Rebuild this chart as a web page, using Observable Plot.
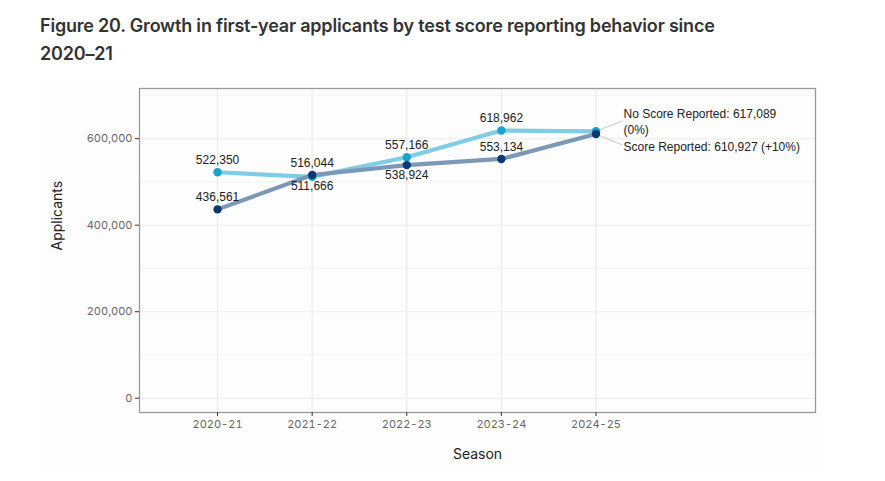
<!DOCTYPE html>
<html>
<head>
<meta charset="utf-8">
<script src="https://cdn.jsdelivr.net/npm/d3@7"></script>
<script src="https://cdn.jsdelivr.net/npm/@observablehq/plot@0.6"></script>
<style>
  html, body { margin: 0; padding: 0; background: #ffffff; }
  body { width: 885px; height: 481px; position: relative; overflow: hidden; }
  #panel { position: absolute; left: 42px; top: 80px; width: 780px; height: 390px; background: #fdfdfd; }
  #title { position: absolute; left: 40px; top: 12px; width: 705px; font-family: Inter, "Noto Sans", sans-serif; font-weight: 600; font-size: 18px; line-height: 28px; color: #333; letter-spacing: -0.2px; }
  #chart { position: absolute; left: 0; top: 80px; }
  #chart svg { overflow: visible; }
</style>
</head>
<body>
<div id="panel"></div>
<div id="title">Figure 20. Growth in first-year applicants by test score reporting behavior since 2020–21</div>
<div id="chart"></div>
<script>
// ---- data ----
const seasons = ["2020-21", "2021-22", "2022-23", "2023-24", "2024-25"];
const seriesNames = ["No Score Reported", "Score Reported"];
const noScore = [522350, 511666, 557166, 618962, 617089];
const score = [436561, 516044, 538924, 553134, 610927];
const growth = ["0%", "+10%"];
// label placement: -1 above point, +1 below point (first four seasons)
const noScorePlace = [-1, 1, -1, -1];
const scorePlace = [-1, -1, 1, -1];
const yTicks = [0, 200000, 400000, 600000];
const yMinor = [100000, 300000, 500000, 700000];
const xLabel = "Season";
const yLabel = "Applicants";

const lineColors = ["#80cbe5", "#7b98b7"];
const pointColors = ["#1aa3cf", "#0b3a72"];

const rows = [];
[noScore, score].forEach((vals, s) => {
  vals.forEach((v, i) => rows.push({series: seriesNames[s], s, i: i + 1, season: seasons[i], value: v,
    place: i < 4 ? (s === 0 ? noScorePlace[i] : scorePlace[i]) : 0}));
});
const inner = rows.filter(d => d.i < 5);
const ends = rows.filter(d => d.i === 5);
const fmt = d3.format(",");
const endText = d => d.s === 0
  ? `${d.series}: ${fmt(d.value)}\n(${growth[0]})`
  : `${d.series}: ${fmt(d.value)} (${growth[1]})`;

// nudge for end labels (in data units, like ggrepel nudge)
const nudgeX = 0.28;
const nudgeY = [24000, -26000];

const width = 885, height = 401;
const chart = Plot.plot({
  width, height,
  marginLeft: 139, marginRight: 70, marginTop: 8, marginBottom: 69,
  style: {fontFamily: "Inter, sans-serif", background: "transparent"},
  x: {type: "linear", domain: [0.175, 7.32]},
  y: {domain: [-33000, 716000]},
  marks: [
    Plot.ruleY(yMinor, {stroke: "#f3f3f3", strokeWidth: 1}),
    Plot.ruleY(yTicks, {stroke: "#ebebeb", strokeWidth: 1.1}),
    Plot.ruleX(seasons.map((s, i) => i + 1), {stroke: "#ebebeb", strokeWidth: 1.1}),
    Plot.frame({stroke: "#9a9a9a", strokeWidth: 1.3}),
    Plot.axisY({ticks: yTicks, tickFormat: d3.format(","), tickSize: 4, tickPadding: 3, stroke: "#333", fill: "#666", fontSize: 11, label: null}),
    Plot.axisX({ticks: seasons.map((s, i) => i + 1), tickFormat: d => seasons[d - 1], tickSize: 4, tickPadding: 4, stroke: "#333", fill: "#666", fontSize: 11, label: null}),
    Plot.text([yLabel], {frameAnchor: "left", dx: -82, rotate: -90, fontSize: 14, fill: "#222"}),
    Plot.text([xLabel], {frameAnchor: "bottom", dy: 46, fontSize: 14, fill: "#222"}),
    Plot.link(ends, {x1: "i", y1: "value", x2: d => d.i + nudgeX, y2: d => d.value + nudgeY[d.s], stroke: "#c8c8c8", strokeWidth: 1}),
    Plot.line(rows, {x: "i", y: "value", z: "series", stroke: d => lineColors[d.s], strokeWidth: 4.2, strokeLinejoin: "round"}),
    Plot.dot(rows, {x: "i", y: "value", r: 4.2, fill: d => pointColors[d.s], stroke: "none"}),
    Plot.text(inner, {x: "i", y: "value", text: d => fmt(d.value), fontSize: 12, fill: "#222",
      fontFamily: "'Liberation Sans', Arial, sans-serif",
      filter: d => d.place < 0, lineAnchor: "bottom", dy: -8}),
    Plot.text(inner, {x: "i", y: "value", text: d => fmt(d.value), fontSize: 12, fill: "#222",
      fontFamily: "'Liberation Sans', Arial, sans-serif",
      filter: d => d.place > 0, lineAnchor: "top", dy: 5}),
    Plot.text(ends, {x: d => d.i + nudgeX, y: d => d.value + nudgeY[d.s], text: endText, textAnchor: "start", dx: 1,
      lineAnchor: "middle", lineHeight: 1.38, fontSize: 12, fill: "#222",
      fontFamily: "'Liberation Sans', Arial, sans-serif"})
  ]
});
document.getElementById("chart").appendChild(chart);
</script>
</body>
</html>
